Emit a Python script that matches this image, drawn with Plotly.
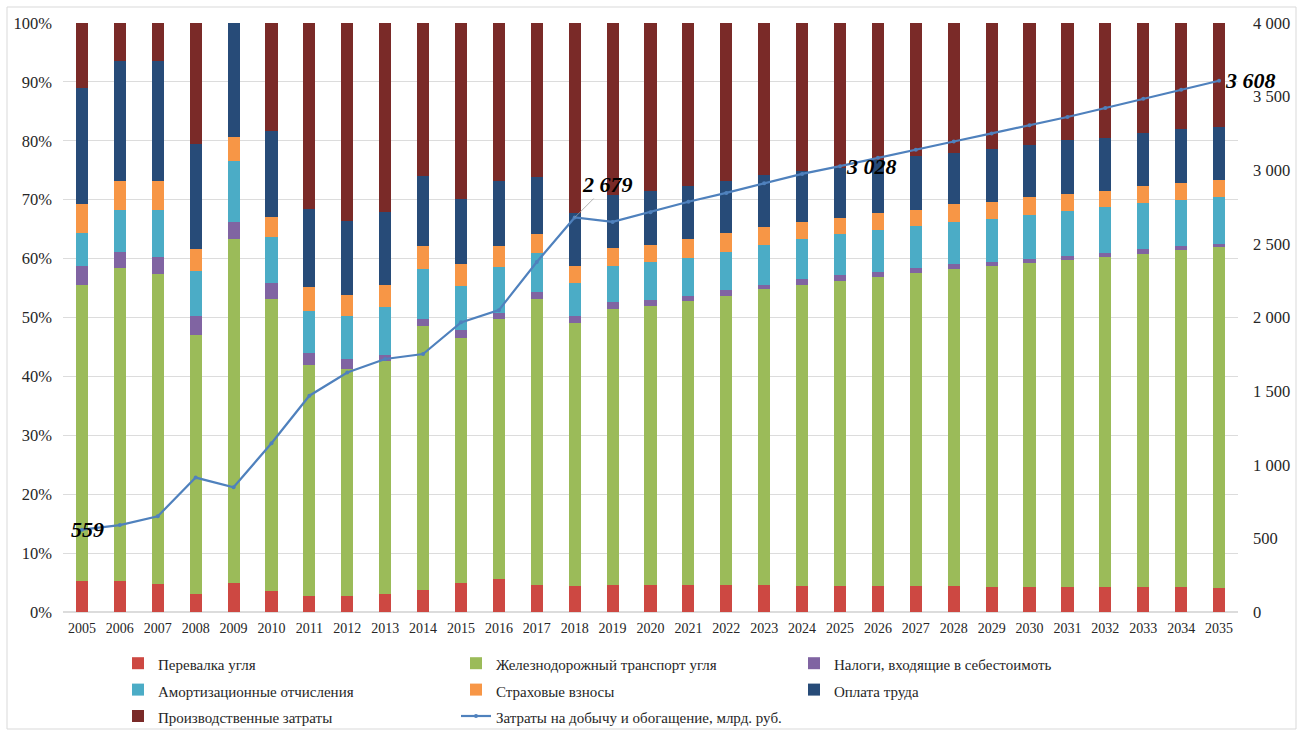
import plotly.graph_objects as go

years = list(range(2005, 2036))

# Shares of cost components, % of total per year
perevalka = [5.2, 5.2, 4.7, 3.1, 5.0, 3.6, 2.8, 2.8, 3.0, 3.7, 4.9, 5.6, 4.6, 4.4, 4.6, 4.6,
             4.6, 4.6, 4.6, 4.5, 4.5, 4.5, 4.5, 4.5, 4.3, 4.3, 4.3, 4.3, 4.2, 4.2, 4.1]
zhd_transport = [50.3, 53.2, 52.7, 43.9, 58.3, 49.5, 39.2, 38.5, 39.6, 44.8, 41.7, 44.2, 48.5, 44.6,
                 46.9, 47.4, 48.2, 49.0, 50.2, 51.1, 51.7, 52.4, 53.0, 53.7, 54.4, 55.0, 55.5,
                 56.0, 56.6, 57.2, 57.9]
nalogi = [3.2, 2.7, 2.8, 3.2, 2.9, 2.8, 1.9, 1.7, 1.1, 1.3, 1.3, 1.0, 1.3, 1.3, 1.1, 0.9,
          0.8, 1.0, 0.8, 0.9, 1.0, 0.9, 0.9, 0.8, 0.8, 0.7, 0.7, 0.7, 0.8, 0.7, 0.5]
amortizaciya = [5.6, 7.1, 8.0, 7.7, 10.3, 7.8, 7.2, 7.3, 8.0, 8.4, 7.5, 7.8, 6.6, 5.6, 6.2, 6.6,
                6.5, 6.6, 6.7, 6.9, 6.9, 7.0, 7.2, 7.2, 7.2, 7.4, 7.5, 7.7, 7.8, 7.9, 8.0]
strahovye = [4.9, 4.9, 4.9, 3.7, 4.2, 3.4, 4.1, 3.6, 3.8, 4.0, 3.6, 3.6, 3.1, 2.8, 3.0, 2.8,
             3.2, 3.1, 3.1, 2.8, 2.8, 2.9, 2.7, 3.0, 2.9, 3.0, 3.0, 2.8, 2.9, 2.9, 2.8]
oplata_truda = [19.8, 20.5, 20.5, 17.9, 19.3, 14.5, 13.3, 12.5, 12.4, 11.9, 11.2, 10.9, 9.7, 9.0,
                9.0, 9.2, 9.0, 8.9, 8.8, 8.6, 8.5, 9.1, 9.2, 8.8, 9.0, 8.9, 9.2, 9.0, 9.0, 9.1, 9.1]
proizv_zatraty = [11.0, 6.4, 6.4, 20.5, 0.0, 18.4, 31.5, 33.6, 32.1, 25.9, 29.8, 26.9, 26.2, 32.3,
                  29.2, 28.5, 27.7, 26.8, 25.8, 25.2, 24.6, 23.2, 22.5, 22.0, 21.4, 20.7, 19.8,
                  19.5, 18.7, 18.0, 17.6]

# Mining and processing costs, bn rubles
zatraty_dobycha = [559, 590, 650, 913, 847, 1146, 1469, 1626, 1718, 1752, 1967, 2050, 2377, 2679,
                   2649, 2715, 2786, 2846, 2912, 2975, 3028, 3085, 3140, 3195, 3250, 3305, 3362,
                   3423, 3485, 3546, 3608]

series = [
    ("Перевалка угля", perevalka, "#CD4842"),
    ("Железнодорожный транспорт угля", zhd_transport, "#9BBB59"),
    ("Налоги, входящие в себестоимоть", nalogi, "#8064A2"),
    ("Амортизационные отчисления", amortizaciya, "#4BACC6"),
    ("Страховые взносы", strahovye, "#F79646"),
    ("Оплата труда", oplata_truda, "#274B78"),
    ("Производственные затраты", proizv_zatraty, "#7A2A28"),
]

serif = "Liberation Serif, Times New Roman, serif"
LEG_TXT = 15


def leg_name(s):
    return f"<span style='font-size:{LEG_TXT}px'>{s}</span>"


fig = go.Figure()
for name, vals, color in series:
    fig.add_trace(go.Bar(x=years, y=vals, name=leg_name(name), marker_color=color,
                         marker_line_width=0))

fig.add_trace(go.Scatter(
    x=years, y=zatraty_dobycha, name=leg_name("Затраты на добычу и обогащение, млрд. руб."),
    yaxis="y2", mode="lines+markers",
    line=dict(color="#4F81BD", width=2.2),
    marker=dict(size=4, color="#4F81BD"),
))


def fmt(v):
    return f"{v:,}".replace(",", " ")


val = dict(zip(years, zatraty_dobycha))
lab_font = dict(family=serif, size=22, color="#000000")
annotations = [
    dict(x=2005, y=val[2005], yref="y2", text=f"<b><i>{fmt(val[2005])}</i></b>",
         showarrow=False, xanchor="center", yanchor="middle", xshift=6, font=lab_font),
    dict(x=2018, y=val[2018], yref="y2", text=f"<b><i>{fmt(val[2018])}</i></b>",
         showarrow=True, arrowhead=0, arrowwidth=0.8, arrowcolor="#a0a0a0",
         ax=33, ay=-33, font=lab_font),
    dict(x=2025, y=val[2025], yref="y2", text=f"<b><i>{fmt(val[2025])}</i></b>",
         showarrow=False, xanchor="left", yanchor="middle", xshift=4, font=lab_font),
    dict(x=2035, y=val[2035], yref="y2", text=f"<b><i>{fmt(val[2035])}</i></b>",
         showarrow=False, xanchor="left", yanchor="middle", xshift=4, font=lab_font),
]

W, H = 1309, 731
L, R, T, B = 63, 71, 23, 119
pw, ph = W - L - R, H - T - B


def px_x(x):
    return (x - L) / pw


def px_y(y):
    return (H - B - y) / ph


fig.update_layout(
    width=W, height=H,
    margin=dict(l=L, r=R, t=T, b=B, autoexpand=False),
    paper_bgcolor="white", plot_bgcolor="white",
    barmode="stack", barnorm="fraction", bargap=0.68,
    separators=", ",
    font=dict(family=serif, size=14, color="#262626"),
    xaxis=dict(range=[years[0] - 0.5, years[-1] + 0.5], dtick=1, tickformat="d",
               showgrid=False, showline=False, zeroline=False, ticks="",
               tickfont=dict(size=14), ticklabelstandoff=6),
    yaxis=dict(range=[0, 1], dtick=0.1, tickformat=".0%", showgrid=True,
               gridcolor="#dcdcdc", gridwidth=1, zeroline=True, zerolinecolor="#dcdcdc",
               showline=False, ticks="", tickfont=dict(size=16.5), ticklabelstandoff=10),
    yaxis2=dict(range=[0, 4000], dtick=500, tickformat=",d", overlaying="y", side="right",
                showgrid=False, zeroline=False, showline=False, ticks="",
                tickfont=dict(size=16.5), ticklabelstandoff=14),
    legend=dict(orientation="h", x=px_x(118), xanchor="left", y=px_y(645), yanchor="top",
                entrywidth=293, itemwidth=30, font=dict(family=serif, size=18, color="#262626"),
                traceorder="normal", bgcolor="rgba(0,0,0,0)", tracegroupgap=0),
    annotations=annotations,
    shapes=[dict(type="rect", xref="paper", yref="paper",
                 x0=px_x(7), x1=px_x(1296), y0=px_y(729), y1=px_y(7),
                 line=dict(color="#d9d9d9", width=1), fillcolor="rgba(0,0,0,0)", layer="below")],
)

fig.write_html("out.html")
